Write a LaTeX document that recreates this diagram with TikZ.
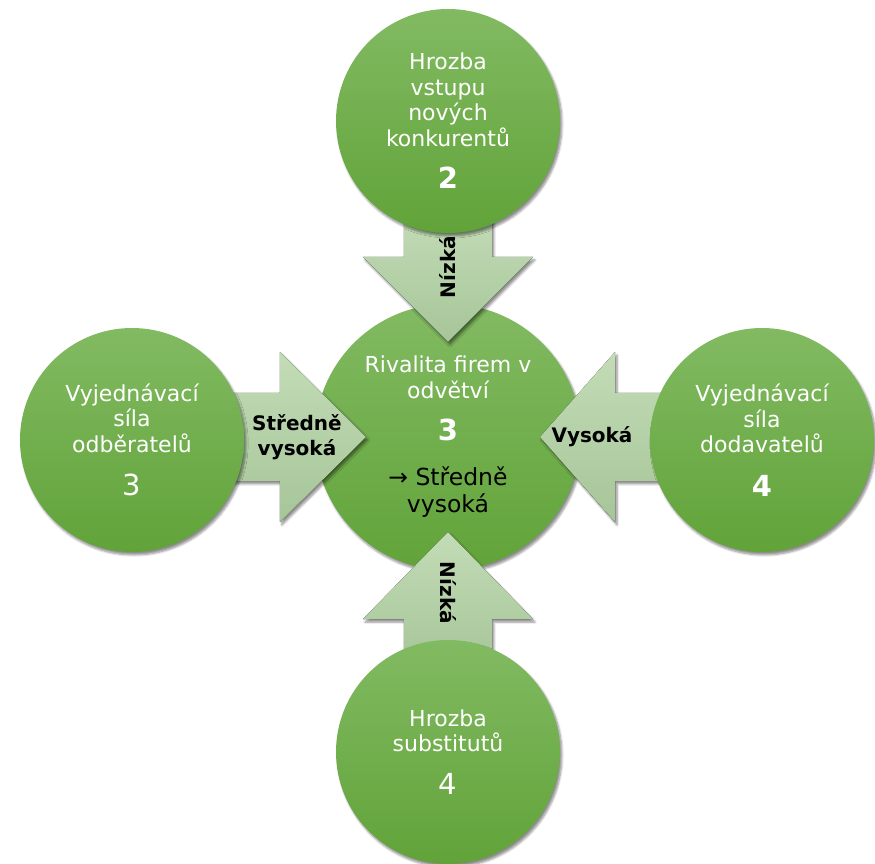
\documentclass[tikz,border=0pt]{standalone}
\usepackage{fontspec}
\setmainfont{DejaVu Sans}
\usetikzlibrary{shadows.blur}
\definecolor{circTop}{HTML}{82BA62}
\definecolor{circBot}{HTML}{61A339}
\definecolor{arrTop}{HTML}{C3DCB7}
\definecolor{arrBot}{HTML}{A6C598}
\newcommand{\forcescore}[1]{{\fontsize{29}{32}\selectfont #1}}
\newcommand{\verdict}[1]{{\color{black}\fontsize{23.5}{27}\selectfont #1}}
% block arrow towards the centre: #1,#2 outward direction, #3 tip, #4 head base, #5 tail
\newcommand{\forcearrow}[5]{%
  \fill[force] ({(#1)*(#3)},{(#2)*(#3)})
    -- ({(#1)*(#4)-(#2)*85},{(#2)*(#4)+(#1)*85})
    -- ({(#1)*(#4)-(#2)*44},{(#2)*(#4)+(#1)*44})
    -- ({(#1)*(#5)-(#2)*44},{(#2)*(#5)+(#1)*44})
    -- ({(#1)*(#5)+(#2)*44},{(#2)*(#5)-(#1)*44})
    -- ({(#1)*(#4)+(#2)*44},{(#2)*(#4)-(#1)*44})
    -- ({(#1)*(#4)+(#2)*85},{(#2)*(#4)-(#1)*85}) -- cycle;}

\begin{document}
\begin{tikzpicture}[x=1pt, y=1pt,
  softshadow/.style={blur shadow={shadow xshift=2pt, shadow yshift=-3pt,
    shadow blur steps=6, shadow opacity=45}},
  forcenode/.style={circle, minimum size=224pt, inner sep=0pt, softshadow,
    top color=circTop, bottom color=circBot, text=white, align=center,
    font=\fontsize{22}{25.5}\selectfont},
  rivalnode/.style={forcenode, minimum size=266pt},
  force/.style={top color=arrTop, bottom color=arrBot, softshadow},
  lbl/.style={font=\bfseries\fontsize{20}{25}\selectfont, text=black, align=center}
]
  \useasboundingbox (-448,-427) rectangle (427,437);

  \node[rivalnode] (rival) at (0,0) {Rivalita firem v\\odvětví\\[17pt]
    \forcescore{\bfseries 3}\\[19pt]\verdict{→ Středně}\\[2pt]\verdict{vysoká}};

  % the four forces pushing on the rivalry
  \begin{scope}[shift={(rival.center)}]
    \forcearrow{0}{1}{95}{180}{225}
    \forcearrow{-1}{0}{82}{168}{215}
    \forcearrow{1}{0}{92}{167}{215}
    \forcearrow{0}{-1}{95}{182}{230}
  \end{scope}

  \node[forcenode] (entrants) at (0,316) {Hrozba\\vstupu\\nových\\konkurentů\\[17pt]
    \forcescore{\bfseries 2}};
  \node[forcenode] (buyers) at (-316,-3) {Vyjednávací\\síla\\odběratelů\\[18pt]
    \forcescore{3}};
  \node[forcenode] (suppliers) at (314,-3) {Vyjednávací\\síla\\dodavatelů\\[18pt]
    \forcescore{\bfseries 4}};
  \node[forcenode] (substitutes) at (0,-315) {Hrozba\\substitutů\\[17pt]
    \forcescore{4}};

  \node[lbl] (lblbuyers) at (-151,0) {Středně\\vysoká};
  \node[lbl] (lblsuppliers) at (144,0) {Vysoká};
  \node[lbl, rotate=90] (lblentrants) at (0,170) {Nízká};
  \node[lbl, rotate=-90] (lblsubstitutes) at (0,-156) {Nízká};
\end{tikzpicture}
\end{document}
